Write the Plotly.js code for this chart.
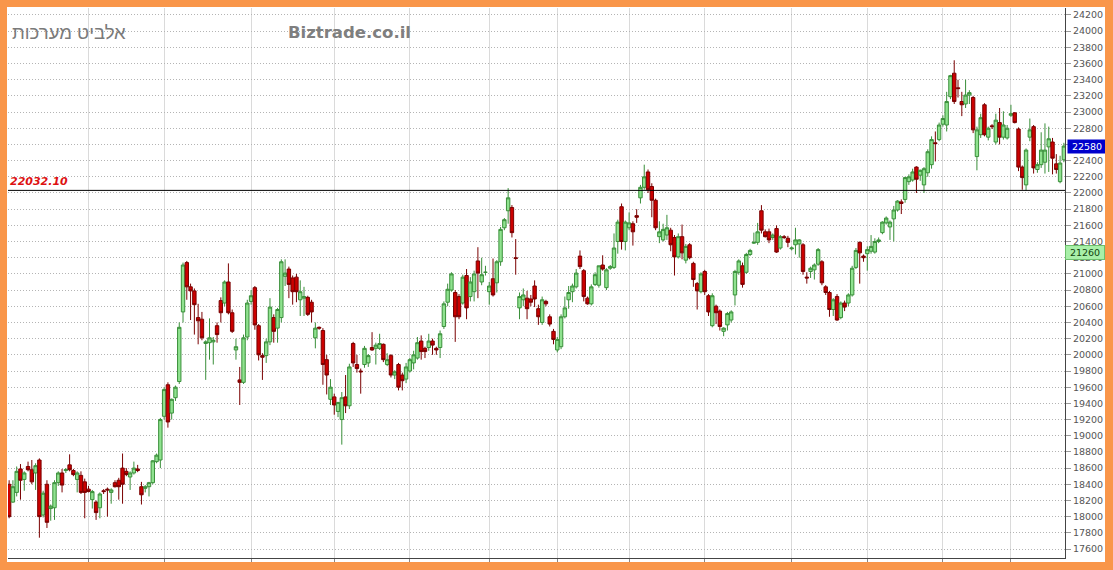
<!DOCTYPE html>
<html>
<head>
<meta charset="utf-8">
<script src="https://cdn.plot.ly/plotly-3.0.1.min.js"></script>
<style>
  html, body { margin: 0; padding: 0; width: 1113px; height: 570px; overflow: hidden; background: #F9964A; }
  #frame { position: absolute; left: 7px; top: 7px; width: 1098px; height: 555px; background: #ffffff; }
</style>
</head>
<body>
<div id="frame"><div id="chart"></div></div>
<script>
// ---- data ----
const openP = [
  18400,18180,18300,18590,18460,18620,18580,18540,18700,18020,
  18400,18100,18110,18420,18540,18570,18640,18570,18460,18510,
  18430,18340,18210,18180,18110,18320,18340,18300,18420,18450,
  18600,18560,18490,18540,18590,18370,18350,18370,18420,18680,
  18700,19240,19630,19280,19470,19670,20530,21140,20840,20790,
  20460,20440,20140,20150,20160,20360,20670,20640,20900,20520,
  20060,19690,19660,20220,20660,20830,20360,19990,19990,20160,
  20460,
  20330,20460,20970,21060,20950,20960,20680,20700,20710,20650,
  20210,20340,20300,19940,19450,19480,19300,19200,19480,19370,
  20140,19880,19800,19880,19900,20090,20080,20080,20130,19880,
  19990,19750,19880,19750,
  19700,19800,19900,19960,20170,20080,20090,20170,20080,20090,
  20350,20650,20800,20770,20720,20640,20980,20720,20780,21160,
  20900,21020,20780,20940,20890,21150,21570,21780,21820,21200,
  20580,20680,20700,20690,
  20850,20570,20400,20660,20470,20290,20060,20100,20470,20680,
  20780,20840,21220,21040,20700,20630,20870,20860,21110,20830,
  21070,21080,21400,21830,21400,21570,21620,21720,21940,22070,
  22260,22080,21910,21460,21420,
  21480,21540,21450,21210,21460,21170,21360,21130,20880,20780,
  21030,20730,20360,20600,20540,20290,20370,20430,20740,21020,
  21100,21020,21240,21380,21390,21780,21520,21520,21450,21560,
  21320,21460,21440,21310,21360,
  21370,21360,20960,21030,21050,21120,21150,20840,20770,20560,
  20720,20460,20640,20640,20740,21080,21390,21220,21250,21280,
  21270,21400,21510,21630,21580,21680,21790,21890,
  21920,22140,22160,22320,22220,22100,22250,22350,22620,22660,
  22850,22840,23190,23480,23300,23130,23100,23210,23180,22450,
  22720,23090,22690,22830,22630,22870,22690,22680,22960,22990,
  22790,22320,22100,22690,22820,22290,22350,22380,22570,22630,
  22360,22140,22410
];
const highP = [
  18450,18450,18620,18650,18560,18680,18700,18660,18720,18320,
  18450,18150,18450,18560,18590,18600,18770,18590,18560,18560,
  18470,18380,18330,18200,18300,18340,18360,18350,18450,18480,
  18780,18600,18560,18680,18640,18430,18390,18430,18700,18780,
  19220,19600,19660,19460,19620,20400,21140,21160,20880,20820,
  20630,20530,20180,20450,20220,20400,20710,20920,21130,20560,
  20200,19850,20250,20680,20800,20850,20380,20020,20200,20700,
  20500,
  20580,21180,21180,21090,20980,21000,20920,20840,20730,20680,
  20400,20350,20330,20000,19700,19520,19420,19540,19750,19890,
  20160,20000,19830,20110,20010,20280,20150,20260,20140,20020,
  20010,19810,19900,19780,
  19900,19960,20050,20220,20240,20100,20260,20200,20100,20300,
  20660,20880,21020,20800,20750,20990,21060,20960,21040,21330,
  21200,21100,20900,21190,21170,21580,21690,22060,21850,21430,
  20770,20820,20790,20740,
  20920,20620,20720,20680,20500,20320,20220,20500,20720,20850,
  20880,21060,21290,21060,20720,20870,21020,21100,21230,21070,
  21110,21500,21670,21870,21660,21760,21650,21800,22100,22350,
  22290,22120,21930,21650,21620,
  21730,21570,21480,21500,21610,21370,21380,21150,20900,21020,
  21050,20750,20760,20620,20560,20340,20530,20550,21050,21180,
  21140,21260,21310,21510,21630,21850,21550,21560,21500,21600,
  21480,21480,21470,21340,21570,
  21430,21380,21020,21090,21130,21320,21170,20860,20790,20700,
  20750,20660,20670,20760,21100,21320,21400,21240,21340,21480,
  21440,21450,21650,21710,21660,21840,21910,21920,
  22200,22230,22300,22330,22290,22320,22540,22700,22760,22870,
  22960,23250,23460,23640,23400,23250,23400,23270,23200,22820,
  22980,23110,22820,22850,22980,23050,23010,22840,23090,23000,
  22810,22340,22550,22920,22840,22380,22750,22860,22820,22680,
  22480,22460,22620
];
const lowP = [
  17980,18170,18250,18210,18320,18560,18400,18330,17740,17990,
  17860,17950,17960,18380,18300,18540,18560,18500,18300,18280,
  17980,18300,18100,17960,17980,18280,18000,18160,18360,18210,
  18160,18500,18330,18520,18550,18150,18300,18250,18400,18660,
  18600,19200,19100,19200,19430,19640,20400,20680,20430,20250,
  20130,20180,19690,19940,19880,20150,20400,20600,20500,20270,
  19940,19380,19640,20180,20620,20310,19930,19690,19900,20120,
  20150,
  20150,20400,20850,20700,20620,20650,20480,20480,20480,20400,
  20080,20310,19630,19510,19380,19260,19230,18890,19280,19330,
  19850,19780,19520,19840,19850,20050,19880,20060,19910,19860,
  19720,19700,19560,19560,
  19650,19780,19820,19940,19940,19960,20050,20000,20000,19960,
  20320,20600,20780,20160,20440,20620,20440,20660,20660,20700,
  20860,20980,20620,20720,20770,21100,21540,21620,21450,20990,
  20440,20600,20440,20600,
  20590,20370,20370,20600,20350,20130,20030,20070,20450,20570,
  20650,20820,21060,20660,20620,20610,20850,20830,21040,20800,
  21050,21060,21250,21300,21290,21540,21350,21630,21870,22040,
  22000,21700,21540,21380,21400,
  21420,21280,20980,21190,21180,21130,21180,20840,20560,20760,
  20740,20480,20340,20380,20300,20230,20300,20400,20610,20990,
  20830,21000,21220,21370,21360,21500,21450,21380,21420,21260,
  21300,21430,21330,21290,21240,
  21200,20990,20880,20950,20930,21100,20860,20740,20470,20480,
  20420,20440,20540,20600,20720,21060,20880,21150,21040,21250,
  21250,21380,21490,21610,21420,21400,21770,21740,
  21880,22100,22140,22000,22150,22000,22200,22300,22390,22640,
  22820,22760,23160,23100,23180,22950,23050,23100,22740,22280,
  22680,22700,22650,22790,22600,22600,22660,22660,22940,22860,
  22270,22040,22030,22640,22240,22250,22310,22240,22260,22230,
  22240,22120,22380
];
const closeP = [
  18000,18370,18560,18450,18540,18580,18430,18630,18000,18290,
  17930,18130,18420,18540,18390,18580,18580,18520,18540,18300,
  18300,18310,18310,18050,18280,18310,18330,18330,18370,18370,
  18400,18520,18540,18600,18570,18270,18370,18420,18690,18760,
  19200,19570,19170,19450,19600,20340,21110,20840,20790,20620,
  20420,20210,20160,20210,20180,20250,20520,20900,20520,20290,
  20100,19660,20210,20640,20730,20370,20000,19970,20160,20590,
  20290,
  20560,21150,21010,20870,20780,20780,20780,20720,20500,20530,
  20330,20330,19880,19750,19600,19380,19410,19470,19370,19850,
  19900,19830,19790,20080,19990,20060,20120,20140,19940,19940,
  19750,19790,19600,19680,
  19850,19940,20000,20150,20040,20040,20170,20120,20060,20260,
  20630,20810,21000,20470,20470,20960,20580,20900,21000,21010,
  20990,21020,20850,20740,21150,21550,21670,21940,21510,21190,
  20720,20740,20570,20650,
  20690,20470,20680,20630,20380,20190,20190,20470,20580,20770,
  20850,21010,21090,20720,20630,20840,20990,21100,21060,21050,
  21090,21320,21640,21400,21640,21630,21520,21700,22070,22200,
  22040,21910,21570,21520,21550,
  21570,21360,21210,21460,21260,21340,21200,20930,20790,21000,
  20780,20530,20730,20520,20350,20330,20510,20530,21030,21160,
  20870,21240,21290,21390,21520,21540,21460,21420,21480,21270,
  21460,21450,21390,21320,21420,
  21420,21030,20950,21070,21110,21300,20890,20770,20560,20680,
  20430,20640,20590,20740,21070,21290,21260,21200,21300,21340,
  21400,21420,21640,21690,21640,21790,21900,21870,
  22190,22200,22260,22170,22280,22300,22510,22660,22610,22840,
  22920,23130,23450,23130,23290,23090,23210,23240,22780,22780,
  22930,22720,22800,22820,22900,22690,22840,22800,22980,22870,
  22320,22190,22530,22780,22310,22350,22530,22530,22670,22430,
  22290,22370,22580
];
// month-start gridlines (trading-day index)
const monthStarts = [21, 41, 64, 86, 106, 127, 145, 164, 184, 207, 227, 247, 265];
const refLevel = 22032.10;
const refLabel = '22032.10';
const markerLevel = 21260;
const titleHe = 'אלביט מערכות';
const brand = 'Biztrade.co.il';

// ---- chart ----
const idx = closeP.map((_, i) => i);
const lastClose = closeP[closeP.length - 1];

const trace = {
  type: 'candlestick',
  x: idx, open: openP, high: highP, low: lowP, close: closeP,
  increasing: { line: { color: '#3a8f3a', width: 1 }, fillcolor: '#8fe28f' },
  decreasing: { line: { color: '#7a0000', width: 1 }, fillcolor: '#cc0000' },
  whiskerwidth: 0,
  hoverinfo: 'skip'
};

const W = 1098, H = 555;
const M = { l: 1, r: 40, t: 1, b: 4 };
const pw = W - M.l - M.r, ph = H - M.t - M.b;

const layout = {
  width: W, height: H, margin: M,
  paper_bgcolor: '#ffffff', plot_bgcolor: '#ffffff',
  showlegend: false,
  boxgap: 0.1,
  boxgroupgap: 0,
  xaxis: {
    range: [-0.3, closeP.length - 0.7],
    tickvals: monthStarts, showticklabels: false,
    showgrid: true, gridcolor: '#dadada', gridwidth: 1,
    zeroline: false, showline: true, linecolor: '#444', linewidth: 1,
    ticks: 'outside', ticklen: 3, tickcolor: '#888',
    rangeslider: { visible: false }, fixedrange: true
  },
  yaxis: {
    side: 'right', range: [17489, 24286],
    tick0: 0, dtick: 200, tickformat: 'd',
    showgrid: true, gridcolor: '#b4b4b4', griddash: '1px,2px', gridwidth: 1,
    zeroline: false, showline: true, linecolor: '#444', linewidth: 1,
    ticks: 'outside', ticklen: 5, tickcolor: '#999',
    tickfont: { family: 'DejaVu Sans', size: 9.5, color: '#555' },
    fixedrange: true
  },
  shapes: [
    { type: 'line', xref: 'paper', x0: 0, x1: 1, yref: 'y', y0: refLevel, y1: refLevel,
      line: { color: '#000000', width: 1 } }
  ],
  annotations: [
    { text: '<b><i>' + refLabel + '</i></b>', xref: 'paper', x: 0, xanchor: 'left', xshift: 0,
      yref: 'y', y: refLevel, yanchor: 'bottom', yshift: 0, showarrow: false,
      font: { family: 'DejaVu Sans', size: 11, color: '#dd1111' } },
    { text: String(lastClose), xref: 'paper', x: 1, xanchor: 'left', xshift: 2,
      yref: 'y', y: lastClose, yanchor: 'middle', showarrow: false,
      bgcolor: '#0000cc', borderpad: 1, width: 36, align: 'center',
      font: { family: 'DejaVu Sans', size: 9.5, color: '#ffffff' } },
    { text: String(markerLevel), xref: 'paper', x: 1, xanchor: 'left', xshift: 0,
      yref: 'y', y: markerLevel, yanchor: 'middle', showarrow: false,
      bgcolor: '#a8f0a8', bordercolor: '#6cbf6c', borderwidth: 1, borderpad: 1, width: 36, align: 'center',
      font: { family: 'DejaVu Sans', size: 9.5, color: '#114411' } },
    { text: titleHe, xref: 'paper', x: (10 - 8) / pw, xanchor: 'left',
      yref: 'paper', y: 1 - (33 - 8) / ph, yanchor: 'middle', showarrow: false,
      font: { family: 'Liberation Sans', size: 18.5, color: '#7a7a7a' } },
    { text: '<b>' + brand + '</b>', xref: 'paper', x: (286 - 8) / pw, xanchor: 'left',
      yref: 'paper', y: 1 - (33 - 8) / ph, yanchor: 'middle', showarrow: false,
      font: { family: 'DejaVu Sans', size: 16.5, color: '#7f7f7f' } }
  ]
};

Plotly.newPlot('chart', [trace], layout, { staticPlot: true, displayModeBar: false });
</script>
</body>
</html>
